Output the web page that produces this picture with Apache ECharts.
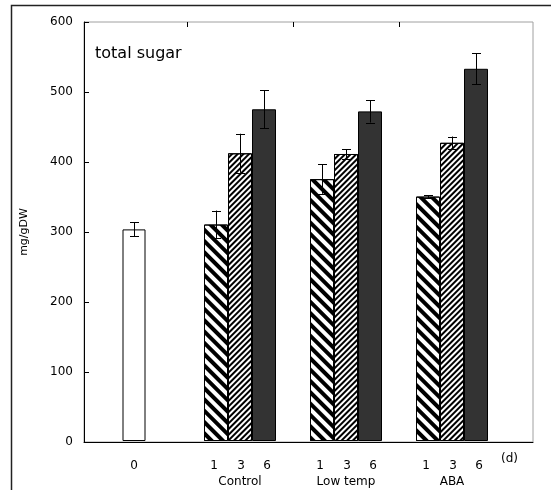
<!DOCTYPE html>
<html>
<head>
<meta charset="utf-8">
<script src="https://cdn.jsdelivr.net/npm/echarts@6/dist/echarts.min.js"></script>
<style>html,body{margin:0;padding:0;background:#fff;}#c{width:551px;height:490px;}</style>
</head>
<body>
<div id="c"></div>
<script>
// ---- data ----
var groups = ['0', 'Control', 'Low temp', 'ABA'];
var dayLabels = ['1', '3', '6'];
var day0 = [303, '-', '-', '-'];
var day0Err = [10, 0, 0, 0];
var day1 = ['-', 310, 375, 350];
var day1Err = [0, 20, 21, 2];
var day3 = ['-', 412, 411, 427];
var day3Err = [0, 28, 7, 9];
var day6 = ['-', 475, 472, 533];
var day6Err = [0, 27, 16, 22];
var yTicks = [0, 100, 200, 300, 400, 500, 600];
var boundaries = ['b0', 'b1', 'b2', 'b3', 'b4'];

var FONT = 'DejaVu Sans';
var BAR_W = 24;

function errSeries(vals, errs, offset, axisIdx) {
  var data = [];
  for (var i = 0; i < vals.length; i++) {
    if (vals[i] !== '-') data.push([i, vals[i], errs[i]]);
  }
  return {
    type: 'custom',
    xAxisIndex: axisIdx,
    yAxisIndex: 1,
    z: 10,
    silent: true,
    data: data,
    renderItem: function (params, api) {
      var c = api.value(0), v = api.value(1), e = api.value(2);
      var top = api.coord([c, v + e]);
      var bot = api.coord([c, v - e]);
      var x = Math.round(top[0] + offset) + 0.5;
      var hw = 4.5;
      var st = { stroke: '#000', lineWidth: 1 };
      return {
        type: 'group',
        children: [
          { type: 'line', shape: { x1: x, y1: top[1], x2: x, y2: bot[1] }, style: st },
          { type: 'line', shape: { x1: x - hw, y1: Math.round(top[1]) + 0.5, x2: x + hw, y2: Math.round(top[1]) + 0.5 }, style: st },
          { type: 'line', shape: { x1: x - hw, y1: Math.round(bot[1]) + 0.5, x2: x + hw, y2: Math.round(bot[1]) + 0.5 }, style: st }
        ]
      };
    }
  };
}

var chart = echarts.init(document.getElementById('c'), null, { renderer: 'canvas' });
var option = {
  backgroundColor: '#fff',
  animation: false,
  textStyle: { fontFamily: FONT },
  title: [
    { text: 'total sugar', left: 90, top: 41, textStyle: { fontFamily: FONT, fontSize: 16, fontWeight: 'normal', color: '#000' } },
    { text: '(d)', left: 496, top: 448, textStyle: { fontFamily: FONT, fontSize: 12, fontWeight: 'normal', color: '#000' } }
  ],
  graphic: [
    { type: 'rect', silent: true, shape: { x: 11.5, y: 5.5, width: 700, height: 700 }, style: { fill: null, stroke: '#222', lineWidth: 1.5 } }
  ],
  grid: [
    { left: 84, right: 18, top: 22, bottom: 48, show: true, borderColor: '#a0a0a0', borderWidth: 1, backgroundColor: 'transparent' },
    { left: 81, right: 46, top: 22, bottom: 48 }
  ],
  xAxis: [
    { gridIndex: 0, type: 'value', min: 0, max: 1, axisLine: { show: true, lineStyle: { color: '#000', width: 1 } }, axisTick: { show: false }, axisLabel: { show: false }, splitLine: { show: false } },
    {
      gridIndex: 1, type: 'category', data: groups,
      axisLine: { show: false }, axisTick: { show: false },
      axisLabel: {
        show: true, interval: 0, margin: 17, color: '#000', fontFamily: FONT, fontSize: 12, lineHeight: 16,
        formatter: function (v, i) {
          if (i === 0) return '{d|' + v + '}\n ';
          return '{d1|' + dayLabels[0] + '}{d|' + dayLabels[1] + '}{d6|' + dayLabels[2] + '}\n' + v;
        },
        rich: {
          d: { width: 28, align: 'center', fontFamily: FONT, fontSize: 12, lineHeight: 16, color: '#000' },
          d1: { width: 26, align: 'center', fontFamily: FONT, fontSize: 12, lineHeight: 16, color: '#000' },
          d6: { width: 24, align: 'center', fontFamily: FONT, fontSize: 12, lineHeight: 16, color: '#000' }
        }
      },
      splitLine: { show: false }
    },
    { gridIndex: 1, type: 'category', data: groups, show: false },
    {
      gridIndex: 1, type: 'category', data: boundaries, boundaryGap: false,
      axisLine: { show: false }, axisLabel: { show: false }, splitLine: { show: false },
      axisTick: { show: true, inside: true, length: 5, lineStyle: { color: '#000' },
        interval: function (idx) { return idx > 0 && idx < boundaries.length - 1; } }
    }
  ],
  yAxis: [
    {
      gridIndex: 0, type: 'value', min: 0, max: 600, interval: 100,
      name: 'mg/gDW', nameLocation: 'middle', nameGap: 54, nameRotate: 90,
      nameTextStyle: { fontFamily: FONT, fontSize: 11, color: '#000', padding: [0, 0, 0, 0] },
      axisLine: { show: true, lineStyle: { color: '#000', width: 1 } },
      axisTick: { show: true, inside: true, length: 5, lineStyle: { color: '#000' } },
      axisLabel: { margin: 11, color: '#000', fontFamily: FONT, fontSize: 12 },
      splitLine: { show: false }
    },
    { gridIndex: 1, type: 'value', min: 0, max: 600, interval: 100, show: false, splitLine: { show: false } }
  ],
  series: [
    { name: 'day0', type: 'bar', xAxisIndex: 2, yAxisIndex: 1, data: day0, barWidth: 23,
      itemStyle: { color: '#fff', borderColor: '#000', borderWidth: 1 } },
    { name: 'day1', type: 'bar', xAxisIndex: 1, yAxisIndex: 1, data: day1, barWidth: BAR_W, barGap: '0%',
      itemStyle: { color: '#fff', borderColor: '#000', borderWidth: 1,
        decal: { symbol: 'rect', symbolSize: 1, color: '#000', dashArrayX: [1, 0], dashArrayY: [3.5, 3.5], rotation: Math.PI / 4 } } },
    { name: 'day3', type: 'bar', xAxisIndex: 1, yAxisIndex: 1, data: day3, barWidth: BAR_W, barGap: '0%',
      itemStyle: { color: '#fff', borderColor: '#000', borderWidth: 1,
        decal: { symbol: 'rect', symbolSize: 1, color: '#000', dashArrayX: [1, 0], dashArrayY: [1.6, 1.6], rotation: -Math.PI / 4 } } },
    { name: 'day6', type: 'bar', xAxisIndex: 1, yAxisIndex: 1, data: day6, barWidth: BAR_W, barGap: '0%',
      itemStyle: { color: '#333', borderColor: '#000', borderWidth: 1 } },
    errSeries(day0, day0Err, 0, 2),
    errSeries(day1, day1Err, -BAR_W, 1),
    errSeries(day3, day3Err, 0, 1),
    errSeries(day6, day6Err, BAR_W, 1)
  ]
};
chart.setOption(option);
</script>
</body>
</html>
